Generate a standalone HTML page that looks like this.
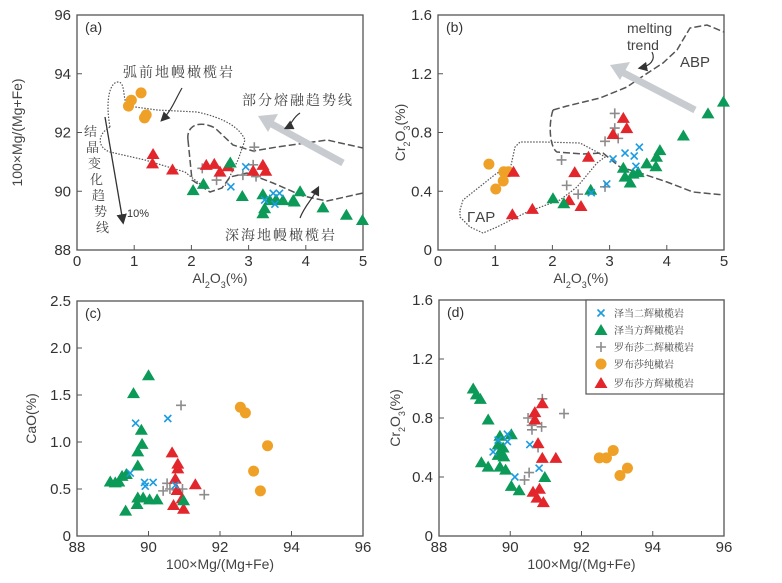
<!DOCTYPE html>
<html><head><meta charset="utf-8"><style>
body{margin:0;background:#fff;}
svg{display:block;font-family:"Liberation Sans","Noto Sans CJK SC",sans-serif;}
.tk{font-size:15px;fill:#333;}
.cn{font-family:"Noto Serif CJK SC","Noto Sans CJK SC",serif;fill:#444;}
</style></head><body>
<svg id="chart" width="782" height="583" viewBox="0 0 782 583">
<defs><marker id="ah" markerWidth="8" markerHeight="8" refX="6" refY="4" orient="auto"><path d="M0,0 L8,4 L0,8 z" fill="#333"/></marker></defs>
<g fill="none">
<path d="M110,127 C105,100 110,82 118,82 C126,82 122,100 128,106 L157,110 L197,112 C225,118 240,128 245,140 L238,160 L225,186" stroke="#555" stroke-width="1.2" stroke-dasharray="1.5,1.5"/>
<path d="M110,127 C96,135 98,148 110,152 L145,160 L185,172 L205,188" stroke="#555" stroke-width="1.2" stroke-dasharray="1.5,1.5"/>
<path d="M188,140 C186,125 200,120 215,128 L233,145 L253,151 L277,147 L327,140 L363,148" stroke="#555" stroke-width="1.5" stroke-dasharray="7,3"/>
<path d="M188,140 L192,180 L210,192 L222,188 L230,177 L247,173 L273,183 L303,196 L327,201 L363,193" stroke="#555" stroke-width="1.5" stroke-dasharray="7,3"/>
<line x1="343" y1="163" x2="268" y2="122" stroke="#c8ccd0" stroke-width="7"/>
<path d="M258,116 L278,114 L268,132 z" fill="#c8ccd0"/>
<path d="M182,88 C175,100 172,110 162,120" stroke="#333" stroke-width="1.2" marker-end="url(#ah)"/>
<path d="M300,113 C292,118 292,125 286,128" stroke="#333" stroke-width="1.2" marker-end="url(#ah)"/>
<path d="M300,218 C305,205 312,200 318,188" stroke="#333" stroke-width="1.2" marker-end="url(#ah)"/>
<line x1="105" y1="117" x2="123" y2="222" stroke="#333" stroke-width="1.3" marker-end="url(#ah)"/>
</g>
<text class="cn" x="123" y="77" font-size="14" letter-spacing="2">弧前地幔橄榄岩</text>
<text class="cn" x="242" y="105" font-size="14" letter-spacing="2">部分熔融趋势线</text>
<text class="cn" x="225" y="240" font-size="14" letter-spacing="2">深海地幔橄榄岩</text>
<g class="cn" font-size="13">
<text x="84" y="136">结</text><text x="86" y="152">晶</text><text x="88" y="168">变</text><text x="90" y="184">化</text><text x="92" y="200">趋</text><text x="94" y="216">势</text><text x="96" y="232">线</text>
</g>
<text x="127" y="217" font-size="11" fill="#333">10%</text>
<g fill="none">
<path d="M460,210 L463,200 L497,173 L510,170 L515,147 L520,142 L543,142 L580,143 L597,152 L605,157 L597,163 L577,187 L560,200 L527,212 L497,227 L483,233 L470,227 L460,217 z" stroke="#555" stroke-width="1.2" stroke-dasharray="1.5,1.5"/>
<path d="M553,110 L567,106 L600,98 L627,87 L640,78 L663,63 L677,50 L690,28 L707,25 L724,32" stroke="#555" stroke-width="1.5" stroke-dasharray="7,3"/>
<path d="M553,110 C548,125 550,148 557,152 L583,154 L603,153 L620,167 L640,173 L667,182 L693,192 L724,195" stroke="#555" stroke-width="1.5" stroke-dasharray="7,3"/>
<line x1="695" y1="110" x2="620" y2="71" stroke="#c8ccd0" stroke-width="7"/>
<path d="M610,65 L630,62 L620,80 z" fill="#c8ccd0"/>
<path d="M652,52 C656,60 650,66 640,68" stroke="#333" stroke-width="1.2" marker-end="url(#ah)"/>
</g>
<text x="627" y="33" font-size="14" fill="#444">melting</text>
<text x="627" y="50" font-size="14" fill="#444">trend</text>
<text x="680" y="67" font-size="15" fill="#444">ABP</text>
<text x="467" y="222" font-size="15" fill="#444">ΓAP</text>
</svg>
<script>
const aOrange=[[1.12,93.35],[0.95,93.1],[0.9,92.9],[1.21,92.6],[1.18,92.5]];
const aRed=[[1.33,91.27],[1.32,90.95],[1.67,90.74],[2.26,90.9],[2.4,90.93],[2.5,90.67],[2.64,90.85],[3.08,90.7],[3.25,90.9],[3.3,90.7]];
const aGreen=[[2.03,90.04],[2.21,90.25],[2.68,90.98],[2.89,89.84],[3.25,89.9],[3.28,89.42],[3.25,89.25],[3.37,89.7],[3.48,89.72],[3.6,89.7],[3.78,89.7],[3.9,90.0],[3.8,89.65],[4.3,89.45],[4.71,89.2],[4.99,89.02]];
const aBlue=[[2.95,90.83],[2.69,90.15],[3.28,89.7],[3.43,89.93],[3.54,89.93],[3.46,89.56]];
const aGray=[[2.19,90.78],[2.44,90.38],[2.9,90.55],[3.1,91.5],[3.08,90.9],[3.13,90.5]];
const bOrange=[[0.89,0.585],[1.01,0.415],[1.14,0.47],[1.15,0.533],[1.23,0.533]];
const bRed=[[1.32,0.533],[1.3,0.243],[1.65,0.28],[2.39,0.53],[2.29,0.34],[2.5,0.30],[2.63,0.635],[3.06,0.79],[3.24,0.90],[3.3,0.83]];
const bGreen=[[2.01,0.352],[2.2,0.318],[2.67,0.41],[3.24,0.56],[3.27,0.5],[3.36,0.46],[3.5,0.53],[3.41,0.52],[3.65,0.59],[3.81,0.57],[3.82,0.635],[3.88,0.68],[4.29,0.78],[4.72,0.93],[4.99,1.01]];
const bBlue=[[3.06,0.62],[3.27,0.66],[3.43,0.64],[3.52,0.70],[3.46,0.57],[2.68,0.39],[2.95,0.45]];
const bGray=[[2.16,0.613],[2.25,0.44],[2.45,0.38],[2.92,0.74],[3.09,0.93],[3.09,0.83],[3.15,0.76],[2.92,0.43]];
const cGreen=[[90.0,1.71],[89.58,1.52],[89.8,1.13],[89.82,0.98],[89.7,0.9],[89.7,0.75],[88.93,0.58],[89.07,0.57],[89.17,0.58],[89.26,0.64],[89.38,0.66],[89.36,0.27],[89.7,0.41],[89.68,0.34],[89.85,0.41],[90.03,0.39],[90.24,0.39],[90.98,0.38]];
const cBlue=[[89.64,1.2],[90.54,1.25],[89.49,0.67],[89.89,0.57],[90.13,0.57],[89.91,0.53],[90.75,0.54]];
const cGray=[[90.91,1.39],[91.56,0.44],[90.41,0.48],[90.52,0.56],[90.6,0.5],[90.78,0.49],[90.95,0.5]];
const cRed=[[90.66,0.89],[90.82,0.77],[90.82,0.72],[90.75,0.61],[90.8,0.49],[90.94,0.40],[90.7,0.33],[90.98,0.29],[91.31,0.55]];
const cOrange=[[92.57,1.37],[92.71,1.31],[93.33,0.96],[92.94,0.69],[93.13,0.48]];
const dGreen=[[88.96,1.0],[89.05,0.96],[89.16,0.93],[89.38,0.79],[90.03,0.69],[89.71,0.68],[89.66,0.62],[89.75,0.57],[89.66,0.55],[89.82,0.54],[89.8,0.6],[89.19,0.5],[89.38,0.47],[89.71,0.47],[89.87,0.45],[90.03,0.34],[90.25,0.31],[90.97,0.40]];
const dBlue=[[89.66,0.65],[89.92,0.69],[89.92,0.64],[89.52,0.57],[90.55,0.62],[90.81,0.46],[90.13,0.40]];
const dGray=[[91.51,0.83],[90.9,0.93],[90.88,0.74],[90.5,0.80],[90.61,0.72],[90.6,0.75],[90.53,0.43],[90.4,0.38],[90.78,0.60]];
const dRed=[[90.69,0.84],[90.9,0.90],[90.69,0.79],[90.78,0.63],[90.9,0.53],[91.28,0.53],[90.64,0.30],[90.75,0.26],[90.82,0.32],[90.93,0.23]];
const dOrange=[[92.5,0.53],[92.7,0.53],[92.89,0.58],[93.08,0.41],[93.29,0.46]];
const alTicks=["0","1","2","3","4","5"];
const mgYTicks=["88","90","92","94","96"];
const crTicks=["0","0.4","0.8","1.2","1.6"];
const caoTicks=["0","0.5","1.0","1.5","2.0","2.5"];
const mgXTicks=["88","90","92","94","96"];
const legendLabels=["泽当二辉橄榄岩","泽当方辉橄榄岩","罗布莎二辉橄榄岩","罗布莎纯橄岩","罗布莎方辉橄榄岩"];

const NS="http://www.w3.org/2000/svg";
const svg=document.getElementById('chart');
const C={green:"#0b9a57",red:"#e2262c",orange:"#eea126",blue:"#1b9be0",gray:"#8c8c8c"};
function mk(tag,at,parent){const e=document.createElementNS(NS,tag);for(const k in at)e.setAttribute(k,at[k]);(parent||svg).appendChild(e);return e;}
function marker(type,px,py,g){
  let e;
  if(type==='green'||type==='red'){e=mk('path',{d:`M${px},${py-6} L${px+6.5},${py+5} L${px-6.5},${py+5} z`,fill:C[type]},g);}
  else if(type==='orange'){e=mk('circle',{cx:px,cy:py,r:5.5,fill:C.orange},g);}
  else if(type==='blue'){e=mk('path',{d:`M${px-3.5},${py-3.5} L${px+3.5},${py+3.5} M${px+3.5},${py-3.5} L${px-3.5},${py+3.5}`,stroke:C.blue,'stroke-width':1.6},g);}
  else {e=mk('path',{d:`M${px-5},${py} L${px+5},${py} M${px},${py-5} L${px},${py+5}`,stroke:C.gray,'stroke-width':1.6},g);}
  return e;
}
function panel(p){
  const sx=v=>p.L+(v-p.x0)/(p.x1-p.x0)*(p.R-p.L);
  const sy=v=>p.B-(v-p.y0)/(p.y1-p.y0)*(p.B-p.T);
  const g=mk('g',{});
  
  
  const frame=mk('rect',{x:p.L,y:p.T,width:p.R-p.L,height:p.B-p.T,fill:'none',stroke:'#555','stroke-width':1.3},g);
  
  
  p.xt.forEach(t=>{const v=parseFloat(t),x=sx(v);
    mk('line',{x1:x,y1:p.B,x2:x,y2:p.B-5,stroke:'#555'},g);
    const tx=mk('text',{x:x,y:p.B+16,'text-anchor':'middle',class:'tk'},g);tx.textContent=t;
    
    });
  p.yt.forEach(t=>{const v=parseFloat(t),y=sy(v);
    mk('line',{x1:p.L,y1:y,x2:p.L+5,y2:y,stroke:'#555'},g);
    const tx=mk('text',{x:p.L-6,y:y+5,'text-anchor':'end',class:'tk'},g);tx.textContent=t;
    
    });
  const lab=mk('text',{x:p.L+8,y:p.T+17,'font-size':14,fill:'#333'},g);lab.textContent=p.letter;
  
  
  const xl=mk('text',{x:(p.L+p.R)/2,y:p.B+33,'text-anchor':'middle','font-size':14,fill:'#444'},g);xl.innerHTML=p.xlab;
  
  
  const yl=mk('text',{x:0,y:0,'text-anchor':'middle','font-size':14,fill:'#444',transform:`translate(${p.ylx},${(p.T+p.B)/2}) rotate(-90)`},g);yl.innerHTML=p.ylab;
  
  
  p.series.forEach(([type,arr])=>{arr.forEach(d=>{const m=marker(type,sx(d[0]),sy(d[1]),g);
    
    });});
}
const sub=s=>`<tspan baseline-shift="sub" font-size="9">${s}</tspan>`;
panel({name:'panel-a',letter:'(a)',L:77,R:363,T:15,B:250,x0:0,x1:5,y0:88,y1:96,xt:alTicks,yt:mgYTicks,
  xlab:`Al${sub(2)}O${sub(3)}(%)`,ylab:'100×Mg/(Mg+Fe)',ylx:22,
  series:[['orange',aOrange],['gray',aGray],['red',aRed],['green',aGreen],['blue',aBlue]]});
panel({name:'panel-b',letter:'(b)',L:438,R:724,T:15,B:250,x0:0,x1:5,y0:0,y1:1.6,xt:alTicks,yt:crTicks,
  xlab:`Al${sub(2)}O${sub(3)}(%)`,ylab:`Cr${sub(2)}O${sub(3)}(%)`,ylx:405,
  series:[['orange',bOrange],['gray',bGray],['red',bRed],['green',bGreen],['blue',bBlue]]});
panel({name:'panel-c',letter:'(c)',L:77,R:363,T:301,B:536,x0:88,x1:96,y0:0,y1:2.5,xt:mgXTicks,yt:caoTicks,
  xlab:'100×Mg/(Mg+Fe)',ylab:'CaO(%)',ylx:36,
  series:[['orange',cOrange],['gray',cGray],['red',cRed],['green',cGreen],['blue',cBlue]]});
panel({name:'panel-d',letter:'(d)',L:439,R:724,T:300,B:536,x0:88,x1:96,y0:0,y1:1.6,xt:mgXTicks,yt:crTicks,
  xlab:'100×Mg/(Mg+Fe)',ylab:`Cr${sub(2)}O${sub(3)}(%)`,ylx:400,
  series:[['orange',dOrange],['gray',dGray],['red',dRed],['green',dGreen],['blue',dBlue]]});
const lg=mk('g',{});


mk('rect',{x:586,y:300,width:138,height:94,fill:'#fff',stroke:'#555','stroke-width':1.2},lg);
const lt=['blue','green','gray','orange','red'];
const ly=[313,330,347,364,383];
legendLabels.forEach((s,i)=>{
  const e=marker(lt[i],601,ly[i],lg);
  
  
  const t=mk('text',{x:614,y:ly[i]+4,'font-size':10,class:'cn'},lg);t.textContent=s;
  
  
});
</script>
</body></html>
